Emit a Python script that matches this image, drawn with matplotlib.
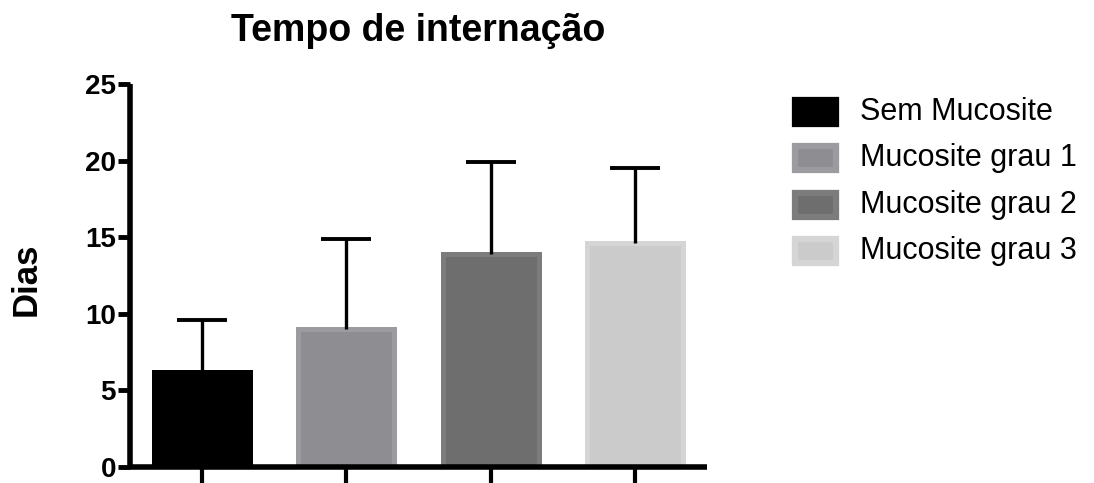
import matplotlib.pyplot as plt
from matplotlib.patches import Rectangle
import numpy as np

# data
groups = ['Sem Mucosite', 'Mucosite grau 1', 'Mucosite grau 2', 'Mucosite grau 3']
means = [6.2, 9.0, 13.9, 14.6]
sd_up = [3.4, 5.9, 6.0, 4.9]
fills = ['#000000', '#8e8e92', '#6e6e6e', '#cbcbcb']
edges = ['#000000', '#9c9ca0', '#7c7c7c', '#d5d5d5']

plt.rcParams['font.family'] = ['Liberation Sans', 'DejaVu Sans']

fig = plt.figure(figsize=(10.94, 4.83), dpi=100)
ax = fig.add_axes([130/1094, 1-467/483, (707-130)/1094, (467-84)/483])

x = np.arange(len(groups))
ax.bar(x, means, width=0.665, color=fills, edgecolor=edges, linewidth=3.6, zorder=2)
eb = ax.errorbar(x, means, yerr=[np.zeros(len(means)), sd_up], fmt='none', ecolor='black',
                 elinewidth=2.4, capsize=18, capthick=2.8, zorder=3)
# only the upper cap is shown
eb[1][0].set_visible(False)

ax.set_xlim(-0.5, 3.5)
ax.set_ylim(0, 25)
ax.set_yticks([0, 5, 10, 15, 20, 25])
ax.set_xticks(x)
ax.set_xticklabels([])

for s in ['top', 'right']:
    ax.spines[s].set_visible(False)
for s in ['left', 'bottom']:
    ax.spines[s].set_linewidth(4)
    ax.spines[s].set_capstyle('butt')
ax.spines['bottom'].set_zorder(4)

ax.tick_params(axis='y', length=9, width=3.5, pad=1, direction='out')
ax.tick_params(axis='x', length=16, width=3, direction='out')
for lab in ax.get_yticklabels():
    lab.set_fontweight('bold')
    lab.set_fontsize(20)

fig.text(26/1094, 1-279/483, 'Dias', rotation=90, fontsize=25, fontweight='bold',
         ha='center', va='center')
fig.text(418/1094, 1-41/483, 'Tempo de internação', fontsize=27, fontweight='bold',
         ha='center', va='baseline')

# legend drawn by hand to match the boxed patches
rows = [112, 158, 205, 251]
for g, fc, ec, ry in zip(groups, fills, edges, rows):
    fig.patches.append(Rectangle((795/1094, 1-(ry+12)/483), 41/1094, 24/483,
                                 transform=fig.transFigure, facecolor=fc,
                                 edgecolor=ec, linewidth=4.5))
    fig.text(860/1094, 1-ry/483, g, fontsize=22, ha='left', va='center')

fig.savefig('out.png', dpi=100)
